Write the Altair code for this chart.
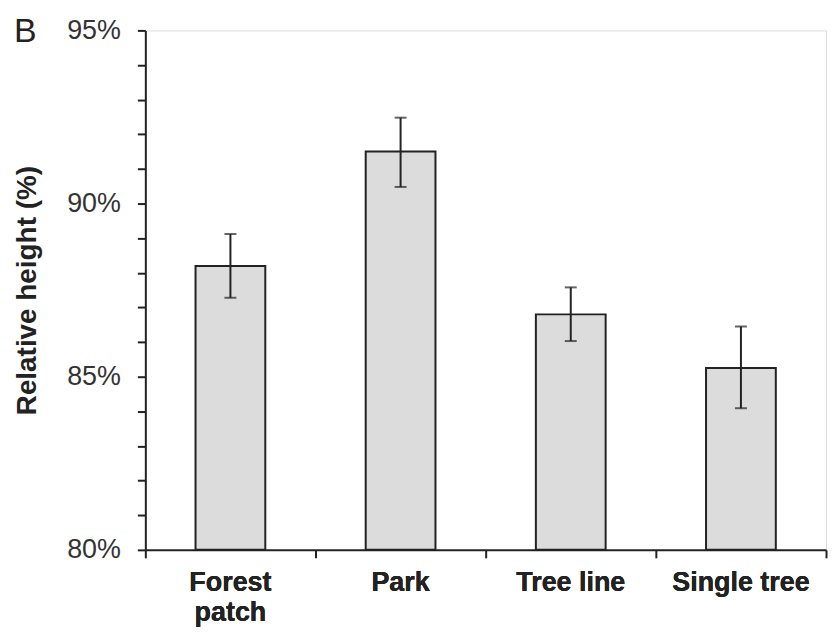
import altair as alt
import pandas as pd

categories = ["Forest patch", "Park", "Tree line", "Single tree"]
means = [88.2, 91.5, 86.8, 85.25]
err_low = [87.28, 90.48, 86.03, 84.09]
err_high = [89.12, 92.48, 87.58, 86.45]
y_ticks = list(range(80, 96))

df = pd.DataFrame({
    "cat": categories,
    "mean": means,
    "lo": err_low,
    "hi": err_high,
    "base": [80] * len(categories),
})

FONT = "Liberation Sans"
INK = "#222222"

xscale = alt.Scale(domain=categories, paddingInner=0, paddingOuter=0)
yscale = alt.Scale(domain=[80, 95], zero=False, nice=False)

x_tick_axis = alt.Axis(
    title=None, labels=False, ticks=True, bandPosition=1, tickExtra=True,
    orient="bottom",
    tickSize=8, tickWidth=2, tickColor=INK, domainColor=INK, domainWidth=2,
)
x_label_axis = alt.Axis(
    title=None, ticks=False, tickSize=0, domain=False, labelAngle=0,
    orient="bottom",
    labelFont=FONT, labelFontSize=27, labelFontWeight="bold", labelColor=INK,
    labelPadding=20, labelLineHeight=30, labelBaseline="top",
    labelExpr="datum.label == 'Forest patch' ? ['Forest', 'patch'] : datum.label",
)
y_axis = alt.Axis(
    title="Relative height (%)", values=y_ticks, labelOverlap=False,
    labelExpr="datum.value % 5 === 0 ? datum.value + '%' : ''",
    labelFont=FONT, labelFontSize=27, labelColor="#333333", labelPadding=17,
    tickSize=8, tickWidth=2, tickColor=INK, domainColor=INK, domainWidth=2,
    grid=False, titleFont=FONT, titleFontSize=28, titleFontWeight="bold",
    titleColor=INK, titleAngle=270, titleX=-118, titleY=261,
    titleAlign="center", titleBaseline="middle",
)

bars = alt.Chart(df).mark_bar(
    width=alt.RelativeBandSize(0.41), color="#dcdcdc", stroke=INK, strokeWidth=2
).encode(
    x=alt.X("cat:N", scale=xscale, sort=categories, axis=x_tick_axis),
    y=alt.Y("mean:Q", scale=yscale, axis=y_axis),
    y2="base:Q",
)

rules = alt.Chart(df).mark_rule(color=INK, strokeWidth=2).encode(
    x=alt.X("cat:N", scale=xscale, sort=categories, axis=x_label_axis),
    y=alt.Y("lo:Q", scale=yscale, axis=y_axis),
    y2="hi:Q",
)

cap_lo = alt.Chart(df).mark_tick(color=INK, thickness=2, size=12, orient="horizontal").encode(
    x=alt.X("cat:N", scale=xscale, sort=categories, axis=x_label_axis),
    y=alt.Y("lo:Q", scale=yscale, axis=y_axis),
)
cap_hi = alt.Chart(df).mark_tick(color=INK, thickness=2, size=12, orient="horizontal").encode(
    x=alt.X("cat:N", scale=xscale, sort=categories, axis=x_label_axis),
    y=alt.Y("hi:Q", scale=yscale, axis=y_axis),
)

chart = alt.layer(bars, rules, cap_lo, cap_hi).resolve_axis(x="independent").properties(
    width=684,
    height=522,
    autosize=alt.AutoSizeParams(type="none"),
    padding={"left": 138, "top": 21, "right": 2, "bottom": 77},
    title=alt.TitleParams(
        "B", anchor="start", frame="group", font=FONT, fontSize=34,
        fontWeight="normal", color=INK, baseline="alphabetic", offset=0,
        dx=-132, dy=60,
    ),
).configure_view(stroke=INK, strokeWidth=2).configure(background="white")

chart.save("out.html", embed_options={"renderer": "svg", "actions": False})
